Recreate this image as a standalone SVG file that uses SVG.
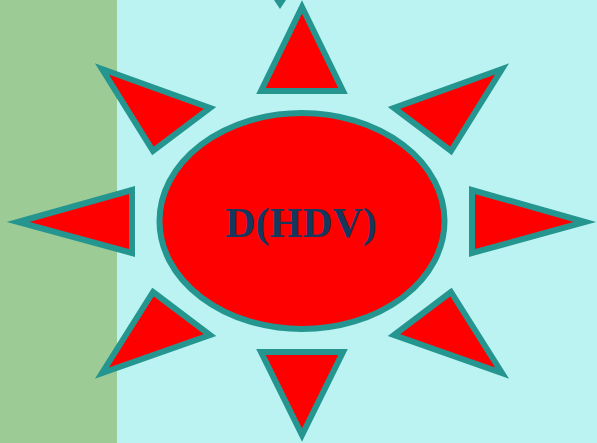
<svg xmlns="http://www.w3.org/2000/svg" width="597" height="443" viewBox="0 0 597 443">
<style>
.ray{fill:#FF0000;stroke:#25958F;stroke-width:6;stroke-linejoin:miter;stroke-miterlimit:10}
.label{font-family:"Liberation Serif","Times New Roman",serif;font-weight:bold;font-size:42px;fill:#17375E;text-anchor:middle}
</style>
<rect x="0" y="0" width="597" height="443" fill="#BBF3F3"/>
<rect x="0" y="0" width="117" height="443" fill="#9CCB96"/>
<g id="rays">
<polygon id="tip-top-partial" points="274,0 286,0 280,9" fill="#25958F"/>
<polygon id="ray-n" class="ray" points="302,7 261,91 343,91"/>
<polygon id="ray-ne" class="ray" points="502,69 394,108 451,151"/>
<polygon id="ray-e" class="ray" points="472,190 472,253 585,222"/>
<polygon id="ray-se" class="ray" points="451,292 394,335 502,373"/>
<polygon id="ray-s" class="ray" points="261,352 343,352 302,435"/>
<polygon id="ray-sw" class="ray" points="153,292 210,335 102,373"/>
<polygon id="ray-w" class="ray" points="18,222 132,190 132,253"/>
<polygon id="ray-nw" class="ray" points="102,69 210,108 153,151"/>
</g>
<g id="sun">
<ellipse cx="302" cy="221" rx="142.5" ry="108" fill="#FF0000" stroke="#25958F" stroke-width="6"/>
<text class="label" x="301" y="237">D(HDV)</text>
</g>
</svg>
